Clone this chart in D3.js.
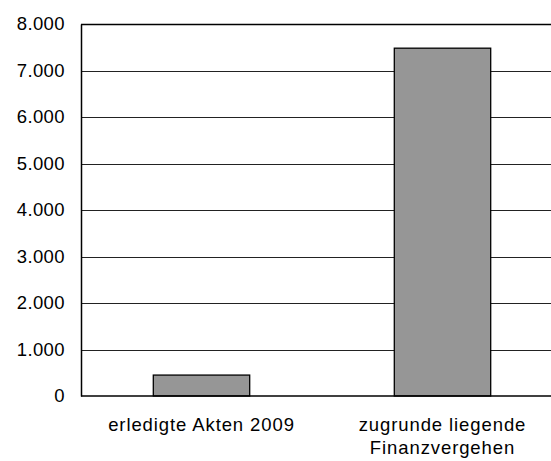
<!DOCTYPE html>
<html><head><meta charset="utf-8">
<script src="https://cdn.jsdelivr.net/npm/d3@7"></script>
<style>body{margin:0;background:#fff;overflow:hidden}text{font-family:"Liberation Sans",Arial,sans-serif}</style>
</head><body>
<svg id="c" width="551" height="461"></svg>
<script>
const categories = [["erledigte Akten 2009"], ["zugrunde liegende", "Finanzvergehen"]];
const values = [450, 7480];
const yTicks = [0, 1000, 2000, 3000, 4000, 5000, 6000, 7000, 8000];

const svg = d3.select("#c");
const m = {left: 81, top: 24, right: 563, bottom: 396};
const x = d3.scaleBand().domain(d3.range(categories.length)).range([m.left, m.right]).paddingInner(0.6).paddingOuter(0.3);
const y = d3.scaleLinear().domain([0, 8000]).range([m.bottom, m.top]);
const fmt = v => d3.format(",")(v).replace(/,/g, ".");
const FS = 18.5, LS = 0.9;

// gridlines
svg.append("g").selectAll("line").data(yTicks.filter(t => t > 0)).join("line")
  .attr("x1", m.left).attr("x2", m.right)
  .attr("y1", d => Math.round(y(d)) + 0.5).attr("y2", d => Math.round(y(d)) + 0.5)
  .attr("stroke", d => d === 8000 ? "#000" : "#222").attr("stroke-width", d => d === 8000 ? 1.5 : 1);

// bars
svg.append("g").selectAll("rect").data(values).join("rect")
  .attr("x", (d, i) => x(i)).attr("width", x.bandwidth())
  .attr("y", d => y(d)).attr("height", d => y(0) - y(d))
  .attr("fill", "#969696").attr("stroke", "#000").attr("stroke-width", 1.3);

// y axis
const ya = d3.axisLeft(y).tickValues(yTicks).tickSize(0).tickPadding(16).tickFormat(fmt);
const yg = svg.append("g").attr("transform", `translate(${m.left},0)`).call(ya);
yg.select(".domain").attr("stroke", "#000").attr("stroke-width", 1.5);
yg.selectAll("text").attr("font-size", FS).attr("letter-spacing", 0.4).attr("fill", "#000")
  .attr("font-family", '"Liberation Sans",Arial,sans-serif');

// x axis line
svg.append("line").attr("x1", m.left).attr("x2", m.right).attr("y1", y(0)).attr("y2", y(0))
  .attr("stroke", "#000").attr("stroke-width", 1.5);

// category labels
const lab = svg.append("g").selectAll("text").data(categories).join("text")
  .attr("x", (d, i) => x(i) + x.bandwidth() / 2).attr("y", 431)
  .attr("text-anchor", "middle").attr("font-size", FS).attr("letter-spacing", LS).attr("fill", "#000");
lab.selectAll("tspan").data(d => d).join("tspan")
  .attr("x", function() { return this.parentNode.getAttribute("x"); })
  .attr("dy", (d, i) => i === 0 ? 0 : 23).text(d => d);
</script>
</body></html>
